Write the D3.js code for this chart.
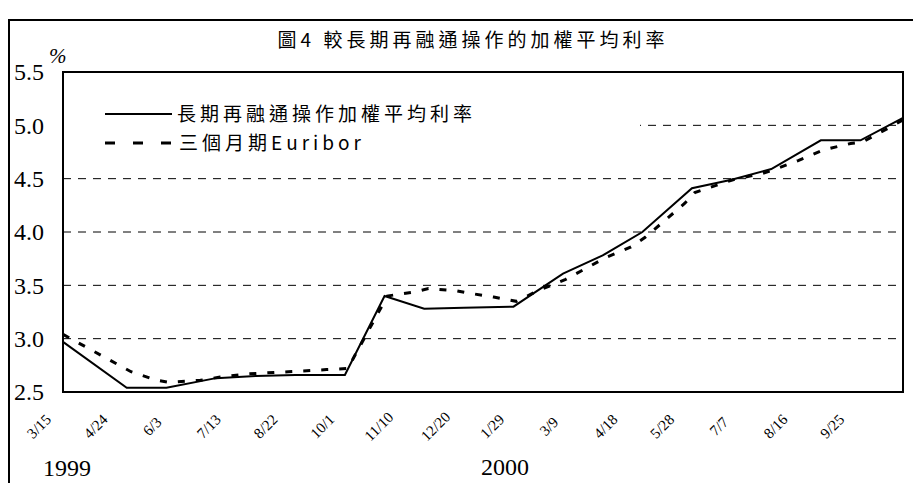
<!DOCTYPE html>
<html>
<head>
<meta charset="utf-8">
<script src="https://cdn.jsdelivr.net/npm/d3@7"></script>
<style>
  body { margin: 0; background: #fff; }
  svg { display: block; }
</style>
</head>
<body>
<script>
// LTRO weighted average rate (solid) and 3-month Euribor (dashed)
var ltroDates = ['1999-03-15','1999-04-29','1999-05-27','1999-07-01','1999-07-29','1999-08-26',
  '1999-09-30','1999-10-28','1999-11-25','1999-12-23','2000-01-27','2000-03-02','2000-03-30',
  '2000-04-27','2000-06-01','2000-06-29','2000-07-27','2000-08-31','2000-09-28','2000-10-28'];
var ltroRates = [2.97, 2.54, 2.54, 2.63, 2.65, 2.66, 2.66, 3.40, 3.28, 3.29, 3.30, 3.61, 3.78,
  4.00, 4.41, 4.49, 4.59, 4.86, 4.86, 5.07];

var euriborDates = ['1999-03-15','1999-05-02','1999-05-20','1999-05-29','1999-06-20','1999-07-04',
  '1999-07-24','1999-08-21','1999-09-17','1999-10-02','1999-10-30','1999-11-19','1999-11-28',
  '1999-12-17','1999-12-25','2000-01-13','2000-01-29','2000-02-15','2000-03-03','2000-03-21',
  '2000-04-01','2000-04-19','2000-04-29','2000-05-13','2000-05-27','2000-06-03','2000-06-21',
  '2000-06-30','2000-07-21','2000-07-28','2000-08-15','2000-09-02','2000-09-21','2000-09-29',
  '2000-10-17','2000-10-28'];
var euriborRates = [3.04, 2.69, 2.61, 2.59, 2.61, 2.64, 2.67, 2.69, 2.71, 2.72, 3.40, 3.44, 3.47,
  3.45, 3.43, 3.39, 3.35, 3.46, 3.55, 3.68, 3.76, 3.86, 3.95, 4.11, 4.27, 4.37, 4.45, 4.49, 4.55,
  4.58, 4.67, 4.77, 4.83, 4.84, 4.97, 5.05];

var xTickDates = ['1999-03-15','1999-04-24','1999-06-03','1999-07-13','1999-08-22','1999-10-01',
  '1999-11-10','1999-12-20','2000-01-29','2000-03-09','2000-04-18','2000-05-28','2000-07-07',
  '2000-08-16','2000-09-25'];
var yTicks = [2.5, 3.0, 3.5, 4.0, 4.5, 5.0, 5.5];
var gridTicks = [3.0, 3.5, 4.0, 4.5, 5.0];

var title = '圖4 較長期再融通操作的加權平均利率';
var seriesNames = ['長期再融通操作加權平均利率', '三個月期Euribor'];

var parse = d3.timeParse('%Y-%m-%d');
var fmt = d3.timeFormat('%-m/%-d');

var W = 913, H = 483;
var plotLeft = 63, plotRight = 903, plotTop = 72, plotBottom = 392;

var x = d3.scaleTime()
    .domain([parse('1999-03-15'), parse('2000-10-28')])
    .range([plotLeft, plotRight]);

var y = d3.scaleLinear()
    .domain([2.5, 5.5])
    .range([plotBottom, plotTop]);

var svg = d3.select('body').append('svg')
    .attr('width', W)
    .attr('height', H);

var serif = '"Liberation Serif", "DejaVu Serif", serif';
var cjk = '"Noto Sans CJK TC", "Noto Sans CJK SC", sans-serif';

// outer frame (left and top edges only, the rest is cut off)
svg.append('path')
    .attr('d', 'M9,' + H + 'V20H' + W)
    .attr('fill', 'none')
    .attr('stroke', '#000')
    .attr('stroke-width', 2);

svg.append('text')
    .attr('x', 473)
    .attr('y', 47)
    .attr('text-anchor', 'middle')
    .style('font-family', cjk)
    .style('font-size', '19px')
    .style('letter-spacing', '4px')
    .text(title);

svg.append('text')
    .attr('x', 49)
    .attr('y', 63)
    .style('font-family', serif)
    .style('font-style', 'italic')
    .style('font-size', '21px')
    .text('%');

// dashed grid lines
svg.append('g').selectAll('line')
    .data(gridTicks)
    .enter().append('line')
    .attr('x1', plotLeft)
    .attr('x2', plotRight)
    .attr('y1', function (d) { return y(d); })
    .attr('y2', function (d) { return y(d); })
    .attr('stroke', '#000')
    .attr('stroke-width', 1)
    .attr('stroke-dasharray', '8,7');

// y axis labels
var yAxis = d3.axisLeft(y)
    .tickValues(yTicks)
    .tickFormat(d3.format('.1f'))
    .tickSize(0)
    .tickPadding(19);

var ya = svg.append('g')
    .attr('transform', 'translate(' + plotLeft + ',0)')
    .call(yAxis);
ya.select('.domain').remove();
ya.selectAll('text')
    .style('font-family', serif)
    .style('font-size', '24px')
    .attr('fill', '#000');

// x axis labels, rotated
var xAxis = d3.axisBottom(x)
    .tickValues(xTickDates.map(parse))
    .tickFormat(fmt)
    .tickSize(0);

var xa = svg.append('g')
    .attr('transform', 'translate(0,' + plotBottom + ')')
    .call(xAxis);
xa.select('.domain').remove();
xa.selectAll('text')
    .attr('y', 0)
    .attr('dy', 0)
    .attr('text-anchor', 'middle')
    .attr('transform', 'translate(-21,38) rotate(-45)')
    .style('font-family', serif)
    .style('font-size', '15px')
    .attr('fill', '#000');

svg.append('text')
    .attr('x', 67)
    .attr('y', 476)
    .attr('text-anchor', 'middle')
    .style('font-family', serif)
    .style('font-size', '24px')
    .text('1999');

svg.append('text')
    .attr('x', 505)
    .attr('y', 475)
    .attr('text-anchor', 'middle')
    .style('font-family', serif)
    .style('font-size', '24px')
    .text('2000');

// legend (white box hides the grid behind it)
svg.append('rect')
    .attr('x', plotLeft + 1)
    .attr('y', 94)
    .attr('width', 576)
    .attr('height', 66)
    .attr('fill', '#fff');

svg.append('line')
    .attr('x1', 105).attr('x2', 172)
    .attr('y1', 114).attr('y2', 114)
    .attr('stroke', '#000')
    .attr('stroke-width', 2);

svg.append('line')
    .attr('x1', 105).attr('x2', 172)
    .attr('y1', 143).attr('y2', 143)
    .attr('stroke', '#000')
    .attr('stroke-width', 3)
    .attr('stroke-dasharray', '10,18');

svg.append('text')
    .attr('x', 177)
    .attr('y', 121)
    .style('font-family', cjk)
    .style('font-size', '19px')
    .style('letter-spacing', '4px')
    .text(seriesNames[0]);

svg.append('text')
    .attr('x', 179)
    .attr('y', 150)
    .style('font-family', cjk)
    .style('font-size', '19px')
    .style('letter-spacing', '4px')
    .text(seriesNames[1]);

// series
var line = d3.line()
    .x(function (d) { return x(d[0]); })
    .y(function (d) { return y(d[1]); });

var euribor = euriborDates.map(function (d, i) { return [parse(d), euriborRates[i]]; });
var ltro = ltroDates.map(function (d, i) { return [parse(d), ltroRates[i]]; });

svg.append('path')
    .datum(euribor)
    .attr('d', line)
    .attr('fill', 'none')
    .attr('stroke', '#000')
    .attr('stroke-width', 3)
    .attr('stroke-dasharray', '7,11');

svg.append('path')
    .datum(ltro)
    .attr('d', line)
    .attr('fill', 'none')
    .attr('stroke', '#000')
    .attr('stroke-width', 2);

// plot border
svg.append('rect')
    .attr('x', plotLeft)
    .attr('y', plotTop)
    .attr('width', plotRight - plotLeft)
    .attr('height', plotBottom - plotTop)
    .attr('fill', 'none')
    .attr('stroke', '#000')
    .attr('stroke-width', 2);
</script>
</body>
</html>
